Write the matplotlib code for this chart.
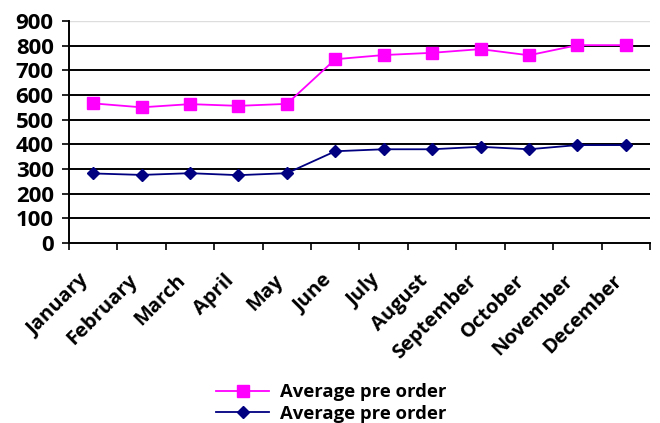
import matplotlib
matplotlib.use("Agg")
import matplotlib.pyplot as plt
import matplotlib.transforms as mtransforms
import numpy as np

months = ["January", "February", "March", "April", "May", "June", "July",
          "August", "September", "October", "November", "December"]
series_pink = [566, 550, 563, 556, 564, 745, 762, 771, 786, 761, 802, 802]
series_navy = [282, 276, 283, 275, 283, 372, 380, 380, 390, 380, 397, 397]
legend_labels = ["Average pre order", "Average pre order"]
yticks = [0, 100, 200, 300, 400, 500, 600, 700, 800, 900]

plt.rcParams['font.family'] = ['Open Sans', 'DejaVu Sans']
plt.rcParams['font.weight'] = 'bold'

fig = plt.figure(figsize=(6.6, 4.23), dpi=100)
ax = fig.add_axes([69/660, 1-243/423, (650-69)/660, (243-21)/423])

x = np.arange(len(months))
l1, = ax.plot(x, series_pink, color='#FF00FF', lw=1.3, marker='s', ms=8.3,
              mec='#FF00FF', mfc='#FF00FF')
l2, = ax.plot(x, series_navy, color='#000080', lw=1.3, marker='D', ms=6.5,
              mec='#000080', mfc='#000080')

ax.set_xlim(-0.5, len(months) - 0.5)
ax.set_ylim(0, 900)
ax.set_yticks(yticks)
for v in yticks[1:-1]:
    ax.axhline(v, color='black', lw=1.4, zorder=0)
ax.axhline(900, color='#dddddd', lw=1.0, zorder=0)

ax.set_xticks(np.arange(-0.5, len(months) + 0.5, 1.0))
ax.set_xticklabels([])
ax.set_xticks(x, minor=True)
ax.set_xticklabels(months, minor=True, rotation=45, ha='right', va='center',
                   rotation_mode='anchor', fontsize=14.5, fontweight='bold')
ax.tick_params(axis='x', which='minor', length=0, pad=25)
ax.tick_params(axis='x', which='major', length=5, width=1.2, direction='out')
ax.tick_params(axis='y', length=5, width=1.2, labelsize=16, pad=6)
for lab in ax.get_yticklabels():
    lab.set_fontweight('bold')
off = mtransforms.ScaledTranslation(-7/100, 0, fig.dpi_scale_trans)
for lab in ax.get_xticklabels(minor=True):
    lab.set_transform(lab.get_transform() + off)

for s in ['top', 'right']:
    ax.spines[s].set_visible(False)
ax.spines['left'].set_linewidth(1.4)
ax.spines['bottom'].set_linewidth(1.4)

fig.legend([l1, l2], legend_labels, loc='center', bbox_to_anchor=(0.502, 1-403/423),
           frameon=False, handlelength=2.9, handletextpad=0.6,
           labelspacing=0.2, prop={'weight': 'bold', 'size': 13.3})

fig.savefig('out.png', dpi=100)
